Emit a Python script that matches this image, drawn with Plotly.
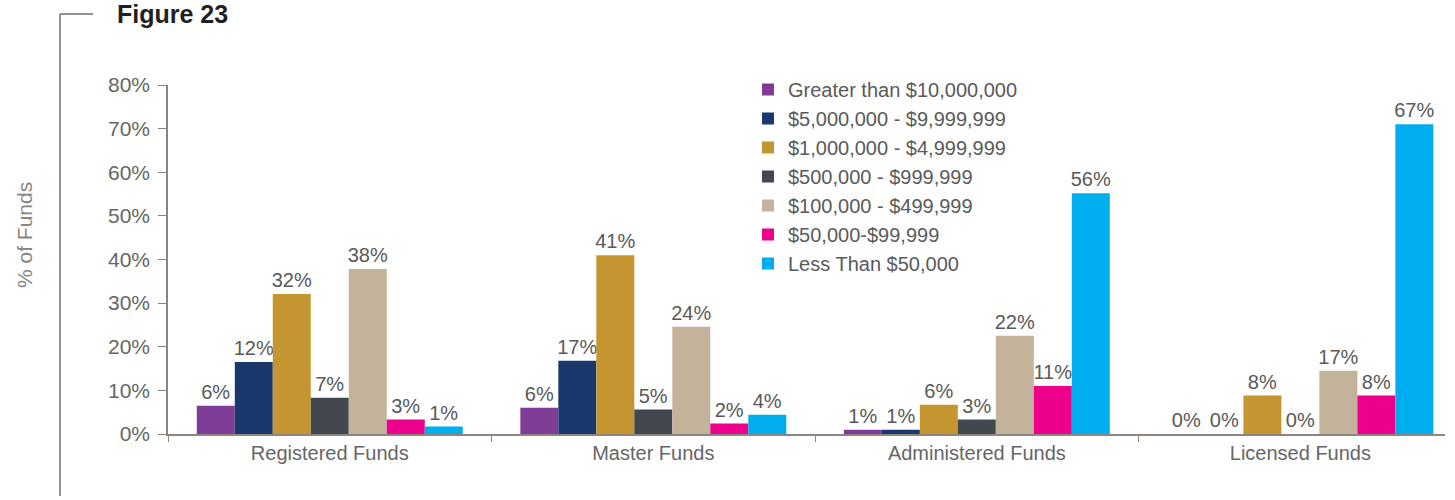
import plotly.graph_objects as go

categories = ["Registered Funds", "Master Funds", "Administered Funds", "Licensed Funds"]
series_names = [
    "Greater than $10,000,000",
    "$5,000,000 - $9,999,999",
    "$1,000,000 - $4,999,999",
    "$500,000 - $999,999",
    "$100,000 - $499,999",
    "$50,000-$99,999",
    "Less Than $50,000",
]
colors = ["#7E3C96", "#1B386D", "#C5962F", "#43474F", "#C4B39B", "#EC008C", "#00AEEF"]

# bar heights as drawn (percent), per series across the four categories
gt_10m = [6.5, 6.0, 1.0, 0.0]
m5_10m = [16.5, 16.8, 1.0, 0.0]
m1_5m = [32.1, 41.0, 6.7, 8.8]
k500_1m = [8.3, 5.6, 3.3, 0.0]
k100_500k = [37.8, 24.6, 22.5, 14.5]
k50_100k = [3.3, 2.4, 11.0, 8.8]
lt_50k = [1.7, 4.4, 55.2, 71.0]

# printed data labels (percent)
gt_10m_lbl = [6, 6, 1, 0]
m5_10m_lbl = [12, 17, 1, 0]
m1_5m_lbl = [32, 41, 6, 8]
k500_1m_lbl = [7, 5, 3, 0]
k100_500k_lbl = [38, 24, 22, 17]
k50_100k_lbl = [3, 2, 11, 8]
lt_50k_lbl = [1, 4, 56, 67]

y_ticks = [0, 10, 20, 30, 40, 50, 60, 70, 80]
y_tick_labels = ["0%", "10%", "20%", "30%", "40%", "50%", "60%", "70%", "80%"]

values = [gt_10m, m5_10m, m1_5m, k500_1m, k100_500k, k50_100k, lt_50k]
labels = [gt_10m_lbl, m5_10m_lbl, m1_5m_lbl, k500_1m_lbl, k100_500k_lbl, k50_100k_lbl, lt_50k_lbl]

FONT = "Liberation Sans, Arial, sans-serif"
AXIS_COLOR = "#8C8580"

fig = go.Figure()
for name, col, vals, lbls in zip(series_names, colors, values, labels):
    fig.add_trace(go.Bar(
        name=name, x=categories, y=vals, marker_color=col, marker_line_width=0,
        text=[f"{v}%" for v in lbls], textposition="outside", constraintext="none",
        cliponaxis=False,
        textfont=dict(family=FONT, size=20, color="#595959"),
    ))

W, H = 1455, 500
L, R, T, B = 168, 10, 85, 66
pw, ph = W - L - R, H - T - B

def px_x(sx):
    return (sx - L) / pw

def px_y(sy):
    return (H - B - sy) / ph

fig.update_layout(
    width=W, height=H,
    margin=dict(l=L, r=R, t=T, b=B),
    paper_bgcolor="white", plot_bgcolor="white",
    barmode="group", bargap=0.178, bargroupgap=0,
    font=dict(family=FONT, size=20, color="#666666"),
    showlegend=True,
    legend=dict(
        x=px_x(748), y=px_y(70), xanchor="left", yanchor="top",
        bgcolor="rgba(0,0,0,0)", font=dict(family=FONT, size=20, color="#5A5A5A"),
        traceorder="normal",
    ),
    xaxis=dict(
        range=[-0.5, 3.447], showline=True, linecolor=AXIS_COLOR, linewidth=1.5,
        ticks="outside", tickson="boundaries", ticklen=6, tickcolor=AXIS_COLOR,
        tickfont=dict(family=FONT, size=20, color="#666666"), showgrid=False,
    ),
    yaxis=dict(
        range=[0, 80], tickvals=y_ticks, ticktext=y_tick_labels, showline=True,
        linecolor=AXIS_COLOR, linewidth=1.5, ticks="outside", ticklen=8,
        tickcolor=AXIS_COLOR, showgrid=False, zeroline=False, ticklabelstandoff=4,
        tickfont=dict(family=FONT, size=21, color="#666666"),
    ),
    annotations=[
        dict(text="<b>Figure 23</b>", x=px_x(115), y=px_y(14), xref="paper", yref="paper",
             xanchor="left", yanchor="middle", showarrow=False,
             font=dict(family=FONT, size=25, color="#231F20")),
        dict(text="% of Funds", x=px_x(24), y=px_y(235), xref="paper", yref="paper",
             xanchor="center", yanchor="middle", textangle=-90, showarrow=False,
             font=dict(family=FONT, size=21, color="#8A8580")),
    ],
    shapes=[
        dict(type="line", xref="paper", yref="paper", x0=px_x(60), x1=px_x(93),
             y0=px_y(14), y1=px_y(14), line=dict(color="#6D6E71", width=1.5)),
        dict(type="line", xref="paper", yref="paper", x0=px_x(60), x1=px_x(60),
             y0=px_y(14), y1=px_y(496), line=dict(color="#6D6E71", width=1.5)),
    ],
)

fig.write_html("out.html", config={"displayModeBar": False},
               post_script="document.body.style.margin='0';")
